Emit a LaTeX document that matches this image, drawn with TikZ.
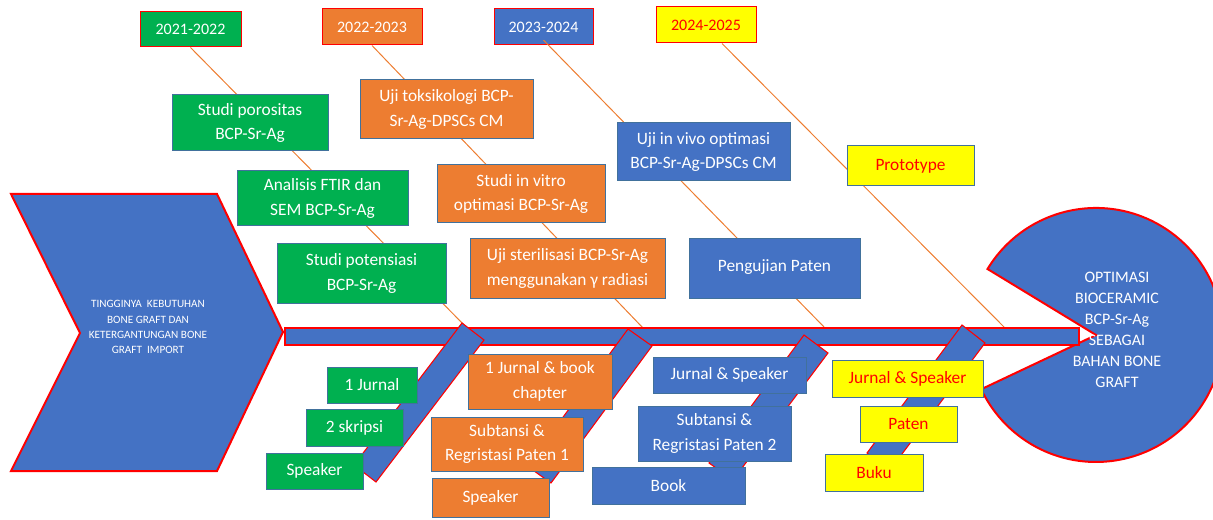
\documentclass[tikz,border=0pt]{standalone}
\usepackage{fontspec}
\setmainfont{Carlito}
\definecolor{bl}{HTML}{4472C4}
\definecolor{gr}{HTML}{00B050}
\definecolor{orf}{HTML}{ED7D31}
\definecolor{ye}{HTML}{FFFF00}
\definecolor{bd}{HTML}{41719C}
\newcommand\bx[7]{\node[#2, minimum width={(#5-#3)*0.75pt}, minimum height={(#6-#4)*0.75pt}] (#1) at ({(#3+#5)/2},{(#4+#6)/2}) {#7};}
\begin{document}
\begin{tikzpicture}[x=0.75pt,y=-0.75pt,
  box/.style={draw=bd, line width=0.75pt, inner sep=0pt, align=center, text=white, font=\fontsize{13}{18.5}\selectfont},
  gbox/.style={box, fill=gr},
  obox/.style={box, fill=orf},
  bbox/.style={box, fill=bl},
  ybox/.style={box, fill=ye, text=red},
  yr/.style={box, draw=red, font=\fontsize{12}{15}\selectfont},
  bone/.style={draw=orf, line width=0.75pt},
  rededge/.style={draw=red, fill=bl, line join=miter}
]
\useasboundingbox (0,0) rectangle (1213,520);
\clip (0,0) rectangle (1213,520);

% year boxes
\bx{yr1}{yr, fill=gr}{140}{12}{241}{47}{2021-2022}
\bx{yr2}{yr, fill=orf}{322}{9}{422}{45}{2022-2023}
\bx{yr3}{yr, fill=bl}{494}{9}{593}{45}{2023-2024}
\bx{yr4}{yr, fill=ye, text=red}{656}{7}{756}{43}{2024-2025}

% points on the spine
\coordinate (s1) at (469,330);
\coordinate (s2) at (643,328);
\coordinate (s3) at (825,328);
\coordinate (s4) at (1005,328);

% bones
\draw[bone] (yr1.south) -- (s1);
\draw[bone] (yr2.south) -- (s2);
\draw[bone] ([yshift=4pt]yr3.south) -- (s3);
\draw[bone] ([xshift=12pt]yr4.south) -- (s4);

% goal (pacman)
\draw[rededge, line width=1.5pt] (1096,335) -- (987.5,269)
  arc[start angle=148.7, end angle=-154.7, radius=95.25pt] -- cycle;

% spine
\draw[rededge, line width=1.1pt] (285,328) rectangle (1079,345);

% ribs
\draw[rededge, line width=0.8pt] (462,323) -- (484,340) -- (376,482) -- (354,465) -- cycle;
\draw[rededge, line width=0.8pt] (628,329) -- (652,346) -- (551,483) -- (527,466) -- cycle;
\draw[rededge, line width=0.8pt] (804,335) -- (828,353) -- (733,480) -- (709,463) -- cycle;
\draw[rededge, line width=0.8pt] (962,325) -- (985,343) -- (890,470) -- (867,453) -- cycle;

% head chevron
\draw[rededge, line width=1.5pt] (11,194) -- (217,194) -- (283,332) -- (217,471) -- (11,471) -- (80,333) -- cycle;
\node[text=white, align=center, font=\fontsize{8.4}{11.3}\selectfont] (problem) at (148,327)
  {TINGGINYA\ \ KEBUTUHAN\\BONE GRAFT DAN\\KETERGANTUNGAN BONE\\GRAFT\ \ IMPORT};
\node[text=white, align=center, font=\fontsize{12}{15.75}\selectfont] (goal) at (1117,330)
  {OPTIMASI\\BIOCERAMIC\\BCP-Sr-Ag\\SEBAGAI\\BAHAN BONE\\GRAFT};

% green
\bx{g1}{gbox}{172}{95}{328}{151}{Studi porositas\\BCP-Sr-Ag}
\bx{g2}{gbox}{237}{171}{408}{226}{Analisis FTIR dan\\SEM BCP-Sr-Ag}
\bx{g3}{gbox}{277}{244}{446}{303}{Studi potensiasi\\BCP-Sr-Ag}
\bx{g4}{gbox}{327}{367}{417}{403}{1 Jurnal}
\bx{g5}{gbox}{306}{409}{403}{446}{2 skripsi}
\bx{g6}{gbox}{266}{453}{363}{489}{Speaker}

% orange
\bx{o1}{obox}{360}{80}{533}{139}{Uji toksikologi BCP-\\Sr-Ag-DPSCs CM}
\bx{o2}{obox}{437}{165}{605}{223}{Studi in vitro\\optimasi BCP-Sr-Ag}
\bx{o3}{obox}{470}{239}{665}{298}{Uji sterilisasi BCP-Sr-Ag\\menggunakan γ radiasi}
\bx{o4}{obox}{468}{354}{612}{409}{1 Jurnal \& book\\chapter}
\bx{o5}{obox}{431}{417}{583}{471}{Subtansi \&\\Regristasi Paten 1}
\bx{o6}{obox}{432}{478}{549}{517}{Speaker}

% blue
\bx{b1}{bbox}{617}{123}{790}{181}{Uji in vivo optimasi\\BCP-Sr-Ag-DPSCs CM}
\bx{b2}{bbox}{689}{239}{860}{298}{\raisebox{5pt}{Pengujian Paten}}
\bx{b3}{bbox}{653}{357}{806}{393}{Jurnal \& Speaker}
\bx{b4}{bbox}{638}{406}{791}{461}{Subtansi \&\\Regristasi Paten 2}
\bx{b5}{bbox}{592}{467}{745}{504}{Book}

% yellow
\bx{y1}{ybox}{847}{146}{974}{186}{Prototype}
\bx{y2}{ybox}{832}{360}{983}{397}{Jurnal \& Speaker}
\bx{y3}{ybox}{860}{406}{957}{442}{Paten}
\bx{y4}{ybox}{825}{454}{923}{491}{Buku}
\end{tikzpicture}
\end{document}
